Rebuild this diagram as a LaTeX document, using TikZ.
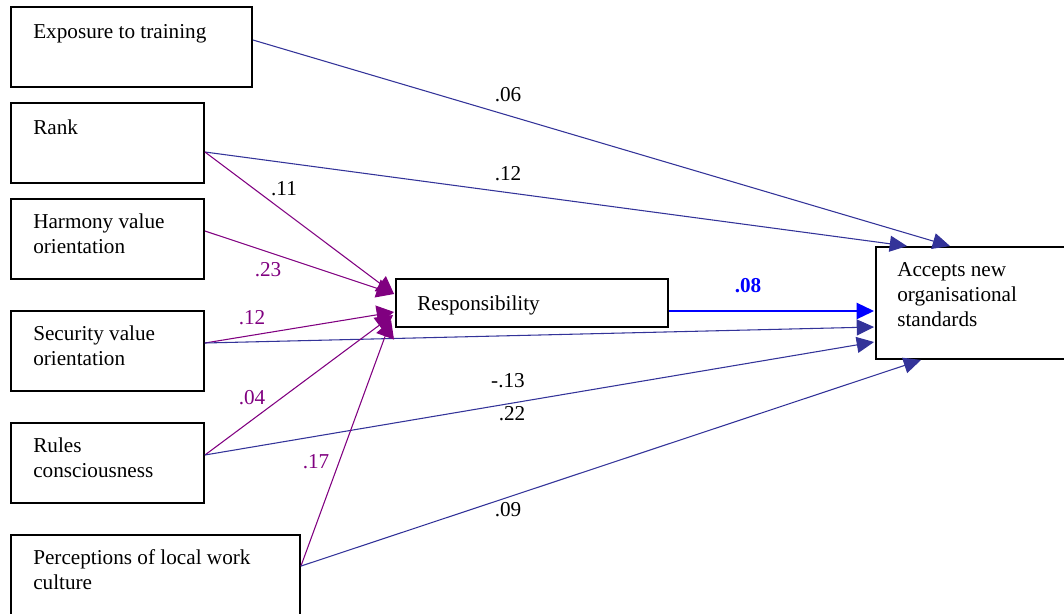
\documentclass[tikz,border=0pt]{standalone}
\usepackage{fontspec}
\setmainfont{Liberation Serif}
\usetikzlibrary{arrows.meta,calc}
\definecolor{navy}{HTML}{333399}
\definecolor{purp}{HTML}{800080}
\definecolor{brightblue}{HTML}{0000FF}
\begin{document}
\begin{tikzpicture}[x=0.75pt,y=-0.75pt,
  box/.style={draw=black,line width=1.4pt,rectangle,inner sep=0pt},
  txt/.style={inner sep=0pt,align=left,anchor=base west,font=\fontsize{15.9}{18.4}\selectfont},
  lbl/.style={inner sep=0pt,font=\fontsize{15.9}{18.4}\selectfont},
  nav/.style={draw=navy,line width=0.8pt,-{Triangle[length=13pt,width=12pt]}},
  pur/.style={draw=purp,line width=0.8pt,-{Triangle[length=13pt,width=14pt]}},
  blu/.style={draw=brightblue,line width=1.6pt,-{Triangle[length=13pt,width=12pt]}}]
\useasboundingbox (0,0) rectangle (1064,614);
% boxes
\node[box,minimum width=241*0.75pt,minimum height=80*0.75pt] (exp) at (131.5,47) {};
\node[box,minimum width=193*0.75pt,minimum height=80*0.75pt] (rank) at (107.5,143) {};
\node[box,minimum width=193*0.75pt,minimum height=80*0.75pt] (harm) at (107.5,239) {};
\node[box,minimum width=193*0.75pt,minimum height=80*0.75pt] (sec) at (107.5,351) {};
\node[box,minimum width=193*0.75pt,minimum height=80*0.75pt] (rules) at (107.5,463) {};
\node[box,minimum width=289*0.75pt,minimum height=90*0.75pt] (perc) at (155.5,580) {};
\node[box,minimum width=272*0.75pt,minimum height=48*0.75pt] (resp) at (532,303) {};
\node[box,minimum width=194*0.75pt,minimum height=112*0.75pt] (acc) at (973,303) {};
% texts
\node[txt] (texp) at (33,38) {Exposure to training};
\node[txt] (trank) at (33,134) {Rank};
\node[txt] (tharm) at (33,253) {Harmony value\\orientation};
\node[txt] (tsec) at (33,365) {Security value\\orientation};
\node[txt] (trules) at (33,477) {Rules\\consciousness};
\node[txt] (tperc) at (33,589) {Perceptions of local work\\culture};
\node[txt] (tresp) at (417,310) {Responsibility};
\node[txt] (tacc) at (897,326) {Accepts new\\organisational\\standards};
% anchor points
\coordinate (accT1) at ($(acc.north west)+(75,0)$);
\coordinate (accT2) at ($(acc.north west)+(32,0)$);
\coordinate (accL1) at ($(acc.west)+(-1,8)$);
\coordinate (accL2) at ($(acc.west)+(-1,24)$);
\coordinate (accL3) at ($(acc.west)+(-1,39)$);
\coordinate (accB) at ($(acc.south west)+(46,0)$);
\coordinate (respA) at ($(resp.west)+(-1,-9)$);
\coordinate (respB) at ($(resp.west)+(-1,9)$);
\coordinate (respC) at ($(resp.west)+(-2,12)$);
\coordinate (respD) at ($(resp.west)+(-4,17)$);
\coordinate (expR) at ($(exp.east)+(0,-7)$);
\coordinate (rankR) at ($(rank.east)+(0,9)$);
\coordinate (harmR) at ($(harm.east)+(0,-8)$);
\coordinate (secR) at ($(sec.east)+(0,-8)$);
\coordinate (rulesR) at ($(rules.east)+(0,-8)$);
\coordinate (percR) at ($(perc.north east)+(0,32)$);
% connectors
\draw[nav] (expR) -- (accT1);
\draw[nav] (rankR) -- (accT2);
\draw[pur] (rankR) -- (respA);
\draw[pur] (harmR) -- (respA);
\draw[pur] (secR) -- (respB);
\draw[nav] (secR) -- (accL2);
\draw[pur] (rulesR) -- (respC);
\draw[nav] (rulesR) -- (accL3);
\draw[pur] (percR) -- (respD);
\draw[nav] (percR) -- (accB);
\draw[blu] (resp.east |- accL1) -- (accL1);
% labels
\node[lbl] (l06) at (508,95) {.06};
\node[lbl] (l12a) at (508,174) {.12};
\node[lbl] (l11) at (284,189) {.11};
\node[lbl,text=purp] (l23) at (268,270) {.23};
\node[lbl,text=purp] (l12b) at (252,318) {.12};
\node[lbl] (l13) at (508,381) {-.13};
\node[lbl,text=purp] (l04) at (252,398) {.04};
\node[lbl] (l22) at (512,414) {.22};
\node[lbl,text=purp] (l17) at (316,462) {.17};
\node[lbl] (l09) at (508,510) {.09};
\node[lbl,text=brightblue,font=\fontsize{15.9}{18.4}\selectfont\bfseries] (l08) at (748,286) {.08};
\end{tikzpicture}
\end{document}
